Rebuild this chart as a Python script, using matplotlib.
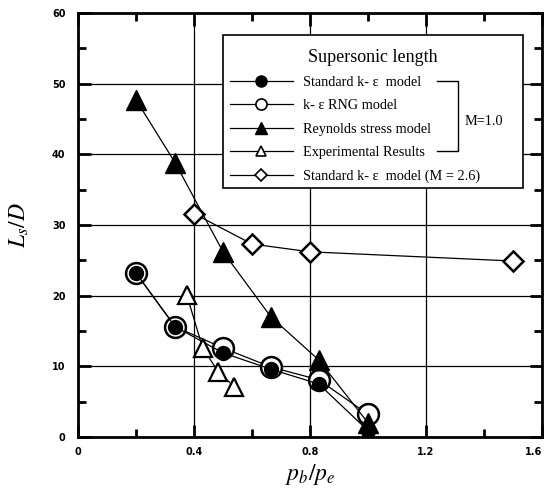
import matplotlib.pyplot as plt
import matplotlib.ticker as mticker
from matplotlib.lines import Line2D
from matplotlib.patches import Rectangle

plt.rcParams['mathtext.fontset'] = 'stix'

# Standard k-epsilon model, M=1.0
ske_x = [0.2, 0.335, 0.5, 0.665, 0.83, 1.0]
ske_y = [23.2, 15.6, 11.9, 9.6, 7.5, 0.9]
# k-epsilon RNG model, M=1.0
rng_x = [0.2, 0.335, 0.5, 0.665, 0.83, 1.0]
rng_y = [23.2, 15.6, 12.6, 9.9, 8.1, 3.2]
# Reynolds stress model, M=1.0
rsm_x = [0.2, 0.335, 0.5, 0.665, 0.83, 1.0]
rsm_y = [47.7, 38.8, 26.2, 17.0, 10.9, 2.0]
# Experimental results
exp_x = [0.375, 0.43, 0.484, 0.539]
exp_y = [20.1, 12.6, 9.2, 7.1]
# Standard k-epsilon model, M=2.6
m26_x = [0.4, 0.6, 0.8, 1.5]
m26_y = [31.6, 27.3, 26.2, 24.9]

labels = ["Standard k- \u03b5  model", "k- \u03b5 RNG model", "Reynolds stress model",
          "Experimental Results", "Standard k- \u03b5  model (M = 2.6)"]
xticks = [0, 0.4, 0.8, 1.2, 1.6]
xtick_labels = ["0", "0.4", "0.8", "1.2", "1.6"]
yticks = [0, 10, 20, 30, 40, 50, 60]
ytick_labels = ["0", "10", "20", "30", "40", "50", "60"]

serif = ['Liberation Serif', 'DejaVu Serif']
narrow = ['Liberation Sans Narrow', 'DejaVu Sans']

fig = plt.figure(figsize=(5.44, 4.88), dpi=100)
ax = fig.add_axes([0.1434, 0.1045, 0.853, 0.869])

lw = 0.9
ax.plot(m26_x, m26_y, '-', color='black', lw=lw, marker='D', ms=10,
        mfc='white', mec='black', mew=1.8, zorder=3)
ax.plot(rng_x, rng_y, '-', color='black', lw=lw, marker='o', ms=15,
        mfc='white', mec='black', mew=1.8, zorder=3)
ax.plot(ske_x, ske_y, '-', color='black', lw=lw, marker='o', ms=10,
        mfc='black', mec='black', zorder=4)
ax.plot(rsm_x, rsm_y, '-', color='black', lw=lw, marker='^', ms=14,
        mfc='black', mec='black', zorder=4)
ax.plot(exp_x, exp_y, '-', color='black', lw=lw, marker='^', ms=13,
        mfc='white', mec='black', mew=1.6, zorder=5)

ax.set_xticks(xticks, labels=xtick_labels)
ax.set_yticks(yticks, labels=ytick_labels)
ax.xaxis.set_minor_locator(mticker.MultipleLocator(0.2))
ax.yaxis.set_minor_locator(mticker.MultipleLocator(5))
ax.set_xlim(0, 1.6)
ax.set_ylim(0, 60)
for t in ax.get_xticklabels() + ax.get_yticklabels():
    t.set_family(narrow)
    t.set_fontweight('bold')
    t.set_fontsize(7)
ax.get_xticklabels()[-1].set_horizontalalignment('right')

ax.tick_params(which='both', direction='in', top=True, right=True, width=2)
ax.tick_params(which='major', length=9)
ax.tick_params(which='minor', length=6)
ax.tick_params(axis='x', pad=7)
ax.tick_params(axis='y', pad=9)
ax.grid(which='major', color='black', lw=0.9)
ax.set_axisbelow(True)
for s in ax.spines.values():
    s.set_linewidth(2)

ax.set_xlabel(r'$p_b/p_e$', fontsize=17, labelpad=4)
ax.set_ylabel(r'$L_s/D$', fontsize=17, labelpad=15)

# legend box
ax.add_patch(Rectangle((0.3125, 0.587), 0.6465, 0.361, transform=ax.transAxes,
                       facecolor='white', edgecolor='black', lw=1.2, zorder=6))
ax.text(0.636, 0.896, 'Supersonic length', transform=ax.transAxes, family=serif,
        fontsize=13, ha='center', va='center', zorder=8)
handles = [
    Line2D([], [], color='black', lw=lw, marker='o', ms=8, mfc='black'),
    Line2D([], [], color='black', lw=lw, marker='o', ms=8, mfc='white', mew=1.2),
    Line2D([], [], color='black', lw=lw, marker='^', ms=8, mfc='black'),
    Line2D([], [], color='black', lw=lw, marker='^', ms=7, mfc='white', mew=1.2),
    Line2D([], [], color='black', lw=lw, marker='D', ms=6, mfc='white', mew=1.2),
]
leg = ax.legend(handles, labels, loc='upper left', bbox_to_anchor=(0.318, 0.861),
                frameon=False, borderaxespad=0, borderpad=0.3,
                handlelength=4.4, handletextpad=0.7, labelspacing=0.72,
                prop={'family': serif, 'size': 10.3})
leg.set_zorder(7)

# bracket grouping the M=1.0 series
ax.plot([0.774, 0.819, 0.819, 0.774], [0.840, 0.840, 0.675, 0.675], color='black',
        lw=1.0, transform=ax.transAxes, zorder=8, clip_on=False)
ax.text(0.834, 0.743, 'M=1.0', transform=ax.transAxes, family=serif, fontsize=10.3,
        va='center', ha='left', zorder=8)

fig.savefig('out.png', dpi=100)
